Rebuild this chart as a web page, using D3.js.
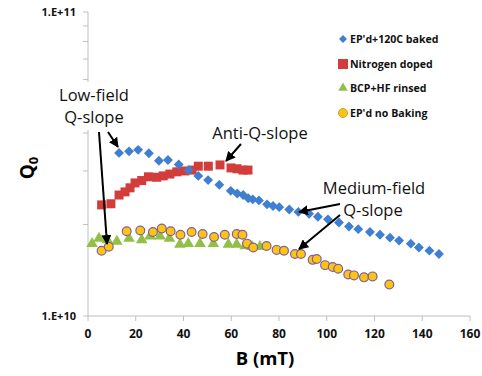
<!DOCTYPE html>
<html>
<head>
<meta charset="UTF-8">
<style>
  body { margin: 0; background: #fff; }
  text { font-family: "Open Sans", "DejaVu Sans", sans-serif; }
  .tick-label { font-weight: bold; font-size: 11px; fill: #111; }
  .note { font-size: 16.5px; fill: #111; }
  .legend text { font-weight: bold; font-size: 10.6px; fill: #111; }
</style>
</head>
<body>
<script src="https://cdn.jsdelivr.net/npm/d3@7"></script>
<script>
// B (mT) and Q0 values
const bakedB = [13.0, 17.2, 21.0, 25.5, 29.7, 33.5, 38.0, 42.2, 46.2, 50.3, 55.0, 59.8, 62.5, 65.0, 67.1, 69.0, 71.6, 75.0, 77.5, 80.1, 84.3, 88.1, 92.6, 96.3, 100.5, 105.1, 109.3, 113.2, 118.1, 122.3, 126.5, 130.3, 135.2, 138.6, 143.0, 147.0];
const bakedQ = [3.44, 3.48, 3.52, 3.43, 3.24, 3.26, 3.15, 3.02, 2.89, 2.80, 2.70, 2.58, 2.53, 2.50, 2.44, 2.42, 2.40, 2.33, 2.30, 2.28, 2.24, 2.20, 2.17, 2.12, 2.08, 2.03, 1.97, 1.93, 1.89, 1.85, 1.81, 1.77, 1.73, 1.68, 1.64, 1.60];

const dopedB = [5.7, 9.6, 13.0, 15.5, 17.6, 19.7, 22.5, 25.3, 28.8, 31.5, 34.3, 37.2, 40.6, 43.6, 46.2, 50.4, 55.3, 59.9, 62.4, 64.9, 67.0];
const dopedQ = [2.32, 2.34, 2.50, 2.56, 2.64, 2.74, 2.79, 2.87, 2.86, 2.89, 2.93, 2.98, 3.00, 3.02, 3.11, 3.11, 3.14, 3.07, 3.05, 3.02, 3.02];

const bcpB = [1.7, 4.6, 8.1, 12.1, 17.2, 22.5, 26.0, 30.2, 34.1, 38.5, 42.0, 46.9, 52.5, 58.8, 62.3, 65.8, 68.7, 72.0];
const bcpQ = [1.73, 1.80, 1.78, 1.76, 1.80, 1.78, 1.83, 1.83, 1.80, 1.72, 1.73, 1.73, 1.73, 1.72, 1.72, 1.70, 1.69, 1.69];

const epB = [5.7, 8.7, 16.2, 21.9, 27.2, 30.9, 34.6, 38.7, 43.4, 48.0, 52.8, 57.3, 62.3, 64.7, 66.6, 69.2, 74.8, 79.0, 82.1, 86.7, 89.2, 94.1, 95.8, 99.3, 102.5, 104.8, 109.0, 111.4, 115.6, 119.2, 126.2];
const epQ = [1.64, 1.69, 1.90, 1.91, 1.89, 1.94, 1.90, 1.85, 1.89, 1.86, 1.82, 1.85, 1.86, 1.85, 1.73, 1.68, 1.70, 1.65, 1.64, 1.60, 1.60, 1.53, 1.54, 1.47, 1.45, 1.43, 1.37, 1.36, 1.34, 1.35, 1.27];

const seriesNames = ["EP'd+120C baked", "Nitrogen doped", "BCP+HF rinsed", "EP'd no Baking"];
const xTicks = [0, 20, 40, 60, 80, 100, 120, 140, 160];
const yMinor = [2, 3, 4, 5, 6, 7, 8, 9];

const W = 482, H = 376;
const svg = d3.select('body').append('svg').attr('width', W).attr('height', H);

const x = d3.scaleLinear().domain([0, 160]).range([88, 470]);
const y = d3.scaleLog().domain([1e10, 1e11]).range([316, 12]);

// axes
const axisColor = '#bfbfbf';
svg.append('line').attr('x1', x(0)).attr('x2', x(0)).attr('y1', y(1e11)).attr('y2', y(1e10))
  .attr('stroke', axisColor);
svg.append('line').attr('x1', x(0)).attr('x2', x(160)).attr('y1', y(1e10)).attr('y2', y(1e10))
  .attr('stroke', axisColor);

const yTickVals = [1e10].concat(yMinor.map(v => v * 1e10)).concat([1e11]);
svg.selectAll('.ytick').data(yTickVals).enter().append('line')
  .attr('x1', x(0) - 5).attr('x2', x(0))
  .attr('y1', d => y(d)).attr('y2', d => y(d))
  .attr('stroke', axisColor);
svg.selectAll('.ylab').data([1e10, 1e11]).enter().append('text')
  .attr('class', 'tick-label')
  .attr('x', 76).attr('y', d => y(d) + 4)
  .attr('text-anchor', 'end')
  .text(d => d === 1e11 ? '1.E+11' : '1.E+10');

svg.selectAll('.xtick').data(xTicks).enter().append('line')
  .attr('x1', d => x(d)).attr('x2', d => x(d))
  .attr('y1', y(1e10)).attr('y2', y(1e10) + 5)
  .attr('stroke', axisColor);
svg.selectAll('.xlab').data(xTicks).enter().append('text')
  .attr('class', 'tick-label')
  .style('font-size', '12px')
  .attr('x', d => x(d)).attr('y', 338)
  .attr('text-anchor', 'middle')
  .text(d => d);

// axis titles
svg.append('text').attr('x', 265).attr('y', 365).attr('text-anchor', 'middle')
  .style('font-weight', 'bold').style('font-size', '18.5px').text('B (mT)');
const qt = svg.append('text').attr('transform', 'translate(34,168) rotate(-90)')
  .attr('text-anchor', 'middle').style('font-weight', 'bold').style('font-size', '19px');
qt.append('tspan').text('Q');
qt.append('tspan').attr('dy', 4).style('font-size', '13px').text('0');

// markers
const plot = svg.append('g');
const zipped = (bs, qs) => bs.map((b, i) => ({ b: b, q: qs[i] * 1e10 }));

plot.selectAll('.tri').data(zipped(bcpB, bcpQ)).enter().append('path')
  .attr('d', d3.symbol(d3.symbolTriangle, 58))
  .attr('transform', d => `translate(${x(d.b)},${y(d.q)})`)
  .attr('fill', '#92c047');

plot.selectAll('.sq').data(zipped(dopedB, dopedQ)).enter().append('rect')
  .attr('x', d => x(d.b) - 4.5).attr('y', d => y(d.q) - 4.5)
  .attr('width', 9).attr('height', 9)
  .attr('fill', '#d23d3b');

plot.selectAll('.dia').data(zipped(bakedB, bakedQ)).enter().append('path')
  .attr('d', d3.symbol(d3.symbolDiamond2, 62))
  .attr('transform', d => `translate(${x(d.b)},${y(d.q)})`)
  .attr('fill', '#3f7fd1');

plot.selectAll('.circ').data(zipped(epB, epQ)).enter().append('circle')
  .attr('cx', d => x(d.b)).attr('cy', d => y(d.q)).attr('r', 4.4)
  .attr('fill', '#ffc40f').attr('stroke', '#7f5fa0').attr('stroke-width', 1.2);

// legend
const legend = svg.append('g').attr('class', 'legend');
const legY = [39, 64, 88, 113];
seriesNames.forEach((name, i) => {
  const g = legend.append('g').attr('transform', `translate(343,${legY[i]})`);
  if (i === 0) g.append('path').attr('d', d3.symbol(d3.symbolDiamond2, 40)).attr('fill', '#3f7fd1');
  if (i === 1) g.append('rect').attr('x', -5).attr('y', -5).attr('width', 10).attr('height', 10).attr('fill', '#d23d3b');
  if (i === 2) g.append('path').attr('d', d3.symbol(d3.symbolTriangle, 40)).attr('fill', '#92c047');
  if (i === 3) g.append('circle').attr('r', 4.5).attr('fill', '#ffc40f').attr('stroke', '#c9a030');
  g.append('text').attr('x', 7).attr('y', 4).text(name);
});

// annotations
svg.append('defs').append('marker').attr('id', 'ah')
  .attr('viewBox', '0 0 10 10').attr('refX', 9).attr('refY', 5)
  .attr('markerWidth', 5).attr('markerHeight', 5).attr('orient', 'auto')
  .append('path').attr('d', 'M0,0 L10,5 L0,10 z').attr('fill', '#000');

svg.append('rect').attr('x', 52).attr('y', 82).attr('width', 84).attr('height', 48).attr('fill', '#fff');
svg.append('text').attr('class', 'note').attr('x', 94).attr('y', 101).attr('text-anchor', 'middle').text('Low-field');
svg.append('text').attr('class', 'note').attr('x', 94).attr('y', 123).attr('text-anchor', 'middle').text('Q-slope');
svg.append('text').attr('class', 'note').attr('x', 260).attr('y', 139).attr('text-anchor', 'middle').text('Anti-Q-slope');
svg.append('text').attr('class', 'note').attr('x', 374).attr('y', 194).attr('text-anchor', 'middle').text('Medium-field');
svg.append('text').attr('class', 'note').attr('x', 373).attr('y', 216).attr('text-anchor', 'middle').text('Q-slope');

const arrows = [
  [108, 132, 118, 147],
  [99, 132, 107, 244],
  [241, 144, 226, 161],
  [340, 204, 299, 212],
  [340, 215, 299, 249]
];
svg.selectAll('.arrow').data(arrows).enter().append('line')
  .attr('x1', d => d[0]).attr('y1', d => d[1]).attr('x2', d => d[2]).attr('y2', d => d[3])
  .attr('stroke', '#000').attr('stroke-width', 2).attr('marker-end', 'url(#ah)');
</script>
</body>
</html>
